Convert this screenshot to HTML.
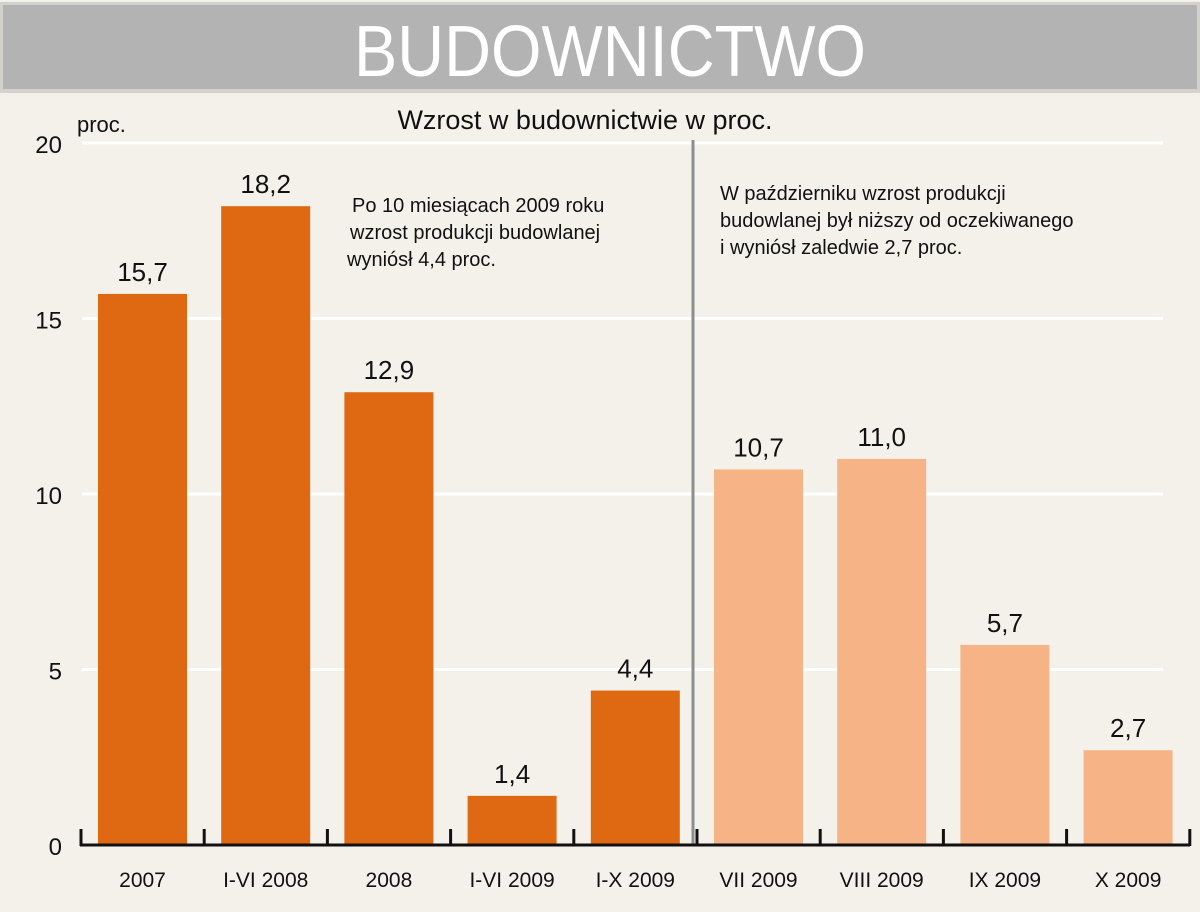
<!DOCTYPE html>
<html><head><meta charset="utf-8"><style>
body{margin:0;background:#f3f1ea;}
svg{display:block;font-family:"Liberation Sans",sans-serif;}
</style></head><body>
<svg width="1200" height="912" viewBox="0 0 1200 912">
<rect x="0" y="0" width="1200" height="912" fill="#f3f1ea"/>
<rect x="0" y="2" width="1200" height="91" fill="#d2d1cc"/>
<rect x="3" y="5" width="1194" height="84" fill="#b3b3b3"/>
<text x="610" y="76" text-anchor="middle" font-size="72" fill="#fff" textLength="512" lengthAdjust="spacingAndGlyphs">BUDOWNICTWO</text>
<text x="585" y="129" text-anchor="middle" font-size="27" fill="#111">Wzrost w budownictwie w proc.</text>
<text x="77" y="132" font-size="22" fill="#111">proc.</text>
<g id="grid"></g>
<line x1="693" y1="140" x2="693" y2="845" stroke="#8e8e8e" stroke-width="3"/>
<g id="bars"></g>
<g id="axis"></g>
<text x="352" y="212" font-size="20" fill="#111"><tspan x="352">Po 10 miesiącach 2009 roku</tspan><tspan x="350" dy="27">wzrost produkcji  budowlanej</tspan><tspan x="347" dy="27">wyniósł 4,4 proc.</tspan></text>
<text x="720" y="200" font-size="20" fill="#111"><tspan x="720">W październiku wzrost produkcji</tspan><tspan x="720" dy="27">budowlanej był niższy od oczekiwanego</tspan><tspan x="720" dy="27">i wyniósł zaledwie 2,7 proc.</tspan></text>
</svg>
<script>
const categories=["2007","I-VI 2008","2008","I-VI 2009","I-X 2009","VII 2009","VIII 2009","IX 2009","X 2009"];
const values=[15.7,18.2,12.9,1.4,4.4,10.7,11.0,5.7,2.7];
const valueLabels=["15,7","18,2","12,9","1,4","4,4","10,7","11,0","5,7","2,7"];
const highlight=[0,0,0,0,0,1,1,1,1];
const yTicks=[0,5,10,15,20];
const NS="http://www.w3.org/2000/svg";
function y(v){return 845-v*35.1;}
function xs(i){return 81+i*123.2;}
function mk(t,a,p,txt){const e=document.createElementNS(NS,t);for(const k in a)e.setAttribute(k,a[k]);if(txt!==undefined)e.textContent=txt;p.appendChild(e);return e;}
const grid=document.getElementById('grid'),bars=document.getElementById('bars'),axis=document.getElementById('axis');
yTicks.forEach(v=>{
  if(v>0){const l=mk('line',{x1:82,x2:1163,y1:y(v),y2:y(v),stroke:'#ffffff','stroke-width':3},grid);
  
  }
  const t=mk('text',{x:62,y:y(v)+10,'text-anchor':'end','font-size':24,fill:'#111'},grid,String(v));
  
  
});
categories.forEach((c,i)=>{
  const x0=xs(i)+17,w=89;
  const r=mk('rect',{x:x0,y:y(values[i]),width:w,height:845-y(values[i]),fill:highlight[i]?'#f5b386':'#de6912'},bars);
  
  
  const vl=mk('text',{x:x0+w/2,y:y(values[i])-13,'text-anchor':'middle','font-size':26,fill:'#111'},bars,valueLabels[i]);
  
  
  const cl=mk('text',{x:x0+w/2,y:887,'text-anchor':'middle','font-size':21,fill:'#111'},axis,c);
  
  
});
const base=mk('line',{x1:80,x2:1190,y1:845,y2:845,stroke:'#111','stroke-width':3},axis);


for(let i=0;i<=categories.length;i++){
  const tk=mk('line',{x1:xs(i),x2:xs(i),y1:829,y2:846,stroke:'#111','stroke-width':3},axis);
  
  
}
</script>
</body></html>
